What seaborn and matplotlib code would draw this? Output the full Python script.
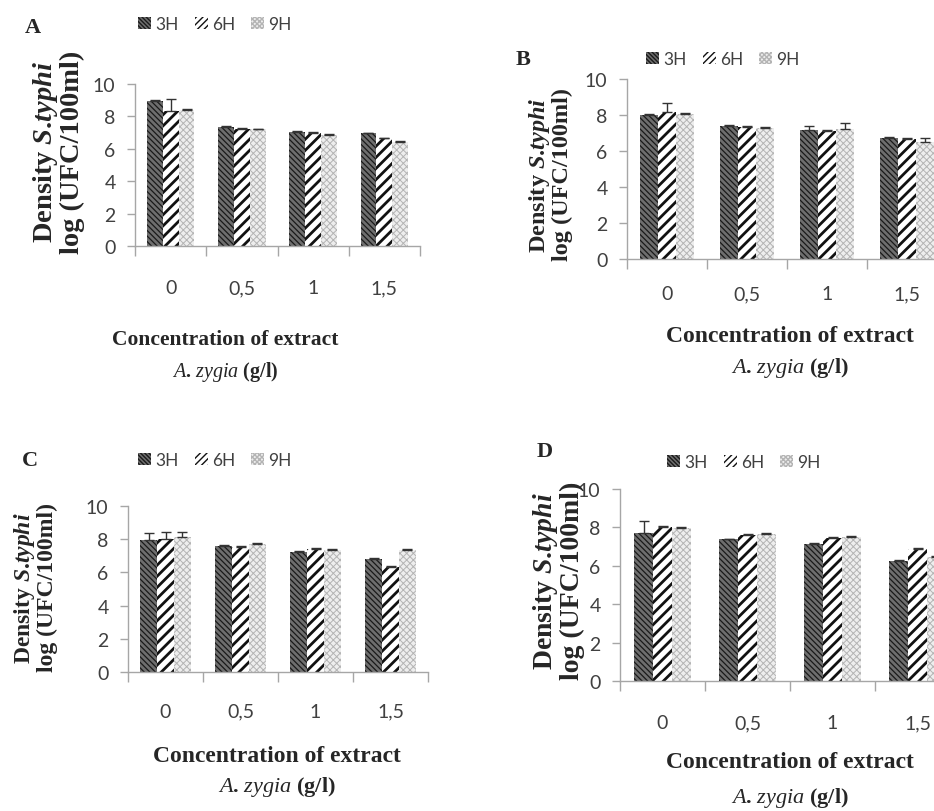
import numpy as np
import pandas as pd
import matplotlib
matplotlib.use("Agg")
import matplotlib.pyplot as plt
import seaborn as sns
from matplotlib.patches import Patch

# categories
conc_labels = ["0", "0,5", "1", "1,5"]
times = ["3H", "6H", "9H"]

# panel A
a_3h = [8.97, 7.36, 7.05, 6.95]
a_6h = [8.35, 7.25, 7.00, 6.64]
a_9h = [8.38, 7.20, 6.85, 6.42]
a_err_3h = [0.05, 0.05, 0.05, 0.05]
a_err_6h = [0.75, 0.05, 0.05, 0.05]
a_err_9h = [0.05, 0.05, 0.05, 0.05]

# panel B
b_3h = [8.00, 7.40, 7.19, 6.72]
b_6h = [8.19, 7.35, 7.13, 6.67]
b_9h = [8.06, 7.28, 7.22, 6.48]
b_err_3h = [0.05, 0.05, 0.22, 0.05]
b_err_6h = [0.50, 0.05, 0.05, 0.08]
b_err_9h = [0.05, 0.05, 0.32, 0.22]

# panel C
c_3h = [7.95, 7.60, 7.25, 6.80]
c_6h = [8.02, 7.55, 7.40, 6.35]
c_9h = [8.12, 7.70, 7.35, 7.35]
c_err_3h = [0.45, 0.05, 0.05, 0.05]
c_err_6h = [0.40, 0.05, 0.05, 0.05]
c_err_9h = [0.30, 0.05, 0.05, 0.05]

# panel D
d_3h = [7.71, 7.37, 7.14, 6.27]
d_6h = [8.00, 7.60, 7.43, 6.88]
d_9h = [7.95, 7.66, 7.49, 6.45]
d_err_3h = [0.60, 0.05, 0.05, 0.05]
d_err_6h = [0.05, 0.05, 0.05, 0.05]
d_err_9h = [0.05, 0.05, 0.05, 0.05]

sns.set_theme(style="white")
plt.rcParams["font.family"] = ["Lato", "DejaVu Sans"]
plt.rcParams["mathtext.fontset"] = "custom"
plt.rcParams["mathtext.rm"] = "Liberation Serif:bold"
plt.rcParams["mathtext.it"] = "Liberation Serif:italic"
plt.rcParams["mathtext.bf"] = "Liberation Serif:italic:bold"

W, H = 934, 812
fig = plt.figure(figsize=(W / 100, H / 100), dpi=100)

# hatch styles per time: face, hatch colour, hatch, hatch linewidth
styles = {
    "3H": ("#6e6e6e", "#1a1a1a", "\\\\\\\\\\\\", 0.9),
    "6H": ("#ffffff", "#111111", "///", 2.0),
    "9H": ("#eeeeee", "#b4b4b4", "xxxxx", 0.7),
}


def px(x, y):
    return x / W, 1 - y / H


panels = [
    dict(letter="A", vals=[a_3h, a_6h, a_9h], errs=[a_err_3h, a_err_6h, a_err_9h],
         box=(135, 85, 420, 247), letter_xy=(33, 28), legend_xy=(215, 25),
         ylab_xy=(58, 152), ylab_fs=20.5, xlab_xy=(225, 340), xlab2_xy=(225, 372),
         xlab_fs=15.5, tick_pad=24),
    dict(letter="B", vals=[b_3h, b_6h, b_9h], errs=[b_err_3h, b_err_6h, b_err_9h],
         box=(627, 80, 947, 260), letter_xy=(523, 60), legend_xy=(723, 60),
         ylab_xy=(550, 175), ylab_fs=17.5, xlab_xy=(790, 337), xlab2_xy=(790, 368),
         xlab_fs=17, tick_pad=19),
    dict(letter="C", vals=[c_3h, c_6h, c_9h], errs=[c_err_3h, c_err_6h, c_err_9h],
         box=(128, 507, 428, 673), letter_xy=(30, 461), legend_xy=(215, 461),
         ylab_xy=(35, 588), ylab_fs=17, xlab_xy=(277, 757), xlab2_xy=(277, 787),
         xlab_fs=17, tick_pad=22),
    dict(letter="D", vals=[d_3h, d_6h, d_9h], errs=[d_err_3h, d_err_6h, d_err_9h],
         box=(620, 490, 960, 682), letter_xy=(545, 452), legend_xy=(744, 463),
         ylab_xy=(558, 581), ylab_fs=20, xlab_xy=(790, 763), xlab2_xy=(790, 798),
         xlab_fs=17, tick_pad=24),
]

axis_grey = "#a6a6a6"
tick_grey = "#404040"

for p in panels:
    x0, y0, x1, y1 = p["box"]
    ax = fig.add_axes([x0 / W, 1 - y1 / H, (x1 - x0) / W, (y1 - y0) / H])

    df = pd.DataFrame({
        "conc": conc_labels * 3,
        "time": np.repeat(times, 4),
        "value": np.concatenate(p["vals"]),
    })
    sns.barplot(data=df, x="conc", y="value", hue="time", order=conc_labels,
                hue_order=times, errorbar=None, width=0.67, legend=False,
                palette=["#6e6e6e", "#ffffff", "#eeeeee"], ax=ax)

    for t, cont, err in zip(times, ax.containers, p["errs"]):
        face, hc, hatch, hlw = styles[t]
        xs, ys = [], []
        for bar in cont:
            bar.set_facecolor(face)
            bar.set_edgecolor(hc)
            bar.set_hatch(hatch)
            bar.set_linewidth(0)
            if hasattr(bar, "set_hatch_linewidth"):
                bar.set_hatch_linewidth(hlw)
            else:
                bar._hatch_linewidth = hlw
            xs.append(bar.get_x() + bar.get_width() / 2)
            ys.append(bar.get_height())
        ax.errorbar(xs, ys, yerr=[np.zeros(len(err)), err], fmt="none",
                    ecolor="#333333", elinewidth=1.0, capsize=3.5, capthick=1.0)

    ax.set_xlim(-0.5, 3.5)
    ax.set_ylim(0, 10)
    ax.set_yticks([0, 2, 4, 6, 8, 10])
    ax.set_xticks(np.arange(-0.5, 4.0, 1.0), minor=True)
    ax.tick_params(axis="x", which="major", length=0, pad=p["tick_pad"],
                   labelsize=14, labelcolor=tick_grey)
    ax.tick_params(axis="x", which="minor", length=7, width=1, color=axis_grey,
                   direction="out", bottom=True)
    ax.tick_params(axis="y", length=6, width=1, color=axis_grey, direction="out",
                   left=True, labelsize=14, labelcolor=tick_grey, pad=8)
    ax.set_xlabel("")
    ax.set_ylabel("")
    for s in ["top", "right"]:
        ax.spines[s].set_visible(False)
    for s in ["left", "bottom"]:
        ax.spines[s].set_color(axis_grey)
        ax.spines[s].set_linewidth(1)

    # legend above the plot
    handles = []
    for t in times:
        face, hc, hatch, hlw = styles[t]
        h = Patch(facecolor=face, edgecolor=hc, hatch=hatch + hatch[:1] * 2,
                  linewidth=0, label=t)
        if hasattr(h, "set_hatch_linewidth"):
            h.set_hatch_linewidth(hlw)
        handles.append(h)
    lx, ly = px(*p["legend_xy"])
    fig.legend(handles=handles, loc="center", bbox_to_anchor=(lx, ly), ncol=3,
               frameon=False, fontsize=12.5, handlelength=0.75, handleheight=0.75,
               handletextpad=0.25, columnspacing=0.9, borderpad=0,
               labelcolor=tick_grey)

    # panel letter
    fig.text(*px(*p["letter_xy"]), p["letter"], family="Liberation Serif",
             fontweight="bold", fontsize=16, ha="center", va="center")

    # y label
    fig.text(*px(*p["ylab_xy"]),
             "Density $\\mathbf{S}$.$\\mathbf{typhi}$\nlog (UFC/100ml)",
             family="Liberation Serif", fontweight="bold", fontsize=p["ylab_fs"],
             rotation=90, ha="center", va="center", multialignment="center",
             linespacing=0.95)

    # x label
    fig.text(*px(*p["xlab_xy"]), "Concentration of extract",
             family="Liberation Serif", fontweight="bold", fontsize=p["xlab_fs"],
             ha="center", va="center")
    fig.text(*px(*p["xlab2_xy"]), "$\\mathit{A}$. $\\mathit{zygia}$ (g/l)",
             family="Liberation Serif", fontweight="bold", fontsize=p["xlab_fs"] - 1,
             ha="center", va="center")

fig.savefig("out.png", dpi=100, facecolor="white")
